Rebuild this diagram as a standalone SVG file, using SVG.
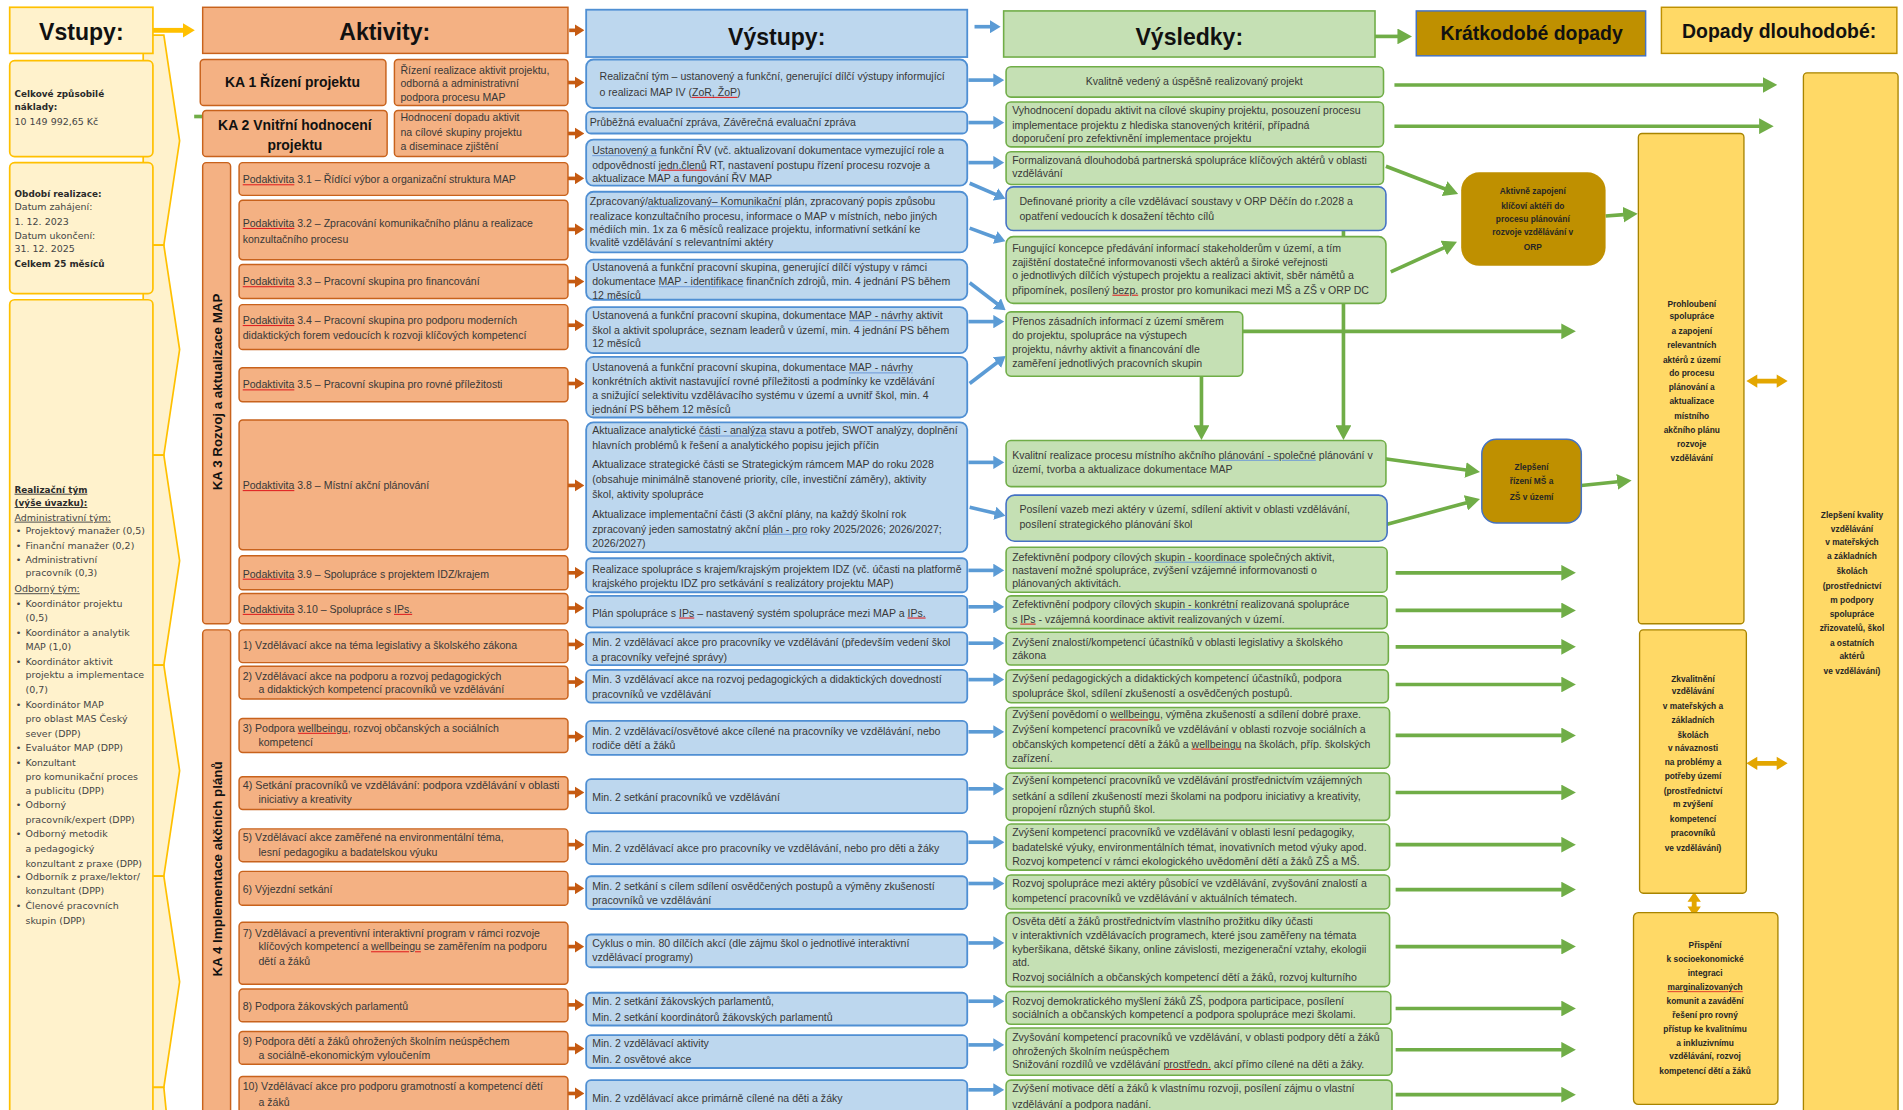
<svg xmlns="http://www.w3.org/2000/svg" width="1903" height="1110" viewBox="0 0 1903 1110">
<style>
text{font-family:"Liberation Sans",Arial,sans-serif}
.b{font-size:8.7px;fill:#383838}
.l{font-family:"DejaVu Sans",Verdana,sans-serif;font-size:7.8px;fill:#454545}
.lb{font-family:"DejaVu Sans",Verdana,sans-serif;font-size:7.3px;fill:#2a2a2a;font-weight:bold}
.u{text-decoration:underline}
.hd{font-size:19px;font-weight:bold;fill:#111;text-anchor:middle}
.hd2{font-size:16px;font-weight:bold;fill:#111;text-anchor:middle}
.ka{font-size:11.5px;font-weight:bold;fill:#111;text-anchor:middle}
.kv{font-size:11px;font-weight:bold;fill:#111;text-anchor:middle}
.im{font-size:6.9px;font-weight:bold;fill:#262626;text-anchor:middle}
.c{text-anchor:middle}
.inp{fill:#fff2cc;stroke:#ffc000;stroke-width:1.4}
.act{fill:#f4b183;stroke:#c8621c;stroke-width:1.2}
.out{fill:#bdd7ee;stroke:#4f8fd3;stroke-width:1.5}
.res{fill:#c5e0b4;stroke:#70ad47;stroke-width:1.3}
.resb{fill:#c5e0b4;stroke:#4472c4;stroke-width:1.3}
.lt{fill:#ffd966;stroke:#a88400;stroke-width:1.1}
.go{stroke:#c55a11;stroke-width:3;fill:none;marker-end:url(#mo)}
.gb{stroke:#5b9bd5;stroke-width:3;fill:none;marker-end:url(#mb)}
.gg{stroke:#70ad47;stroke-width:3;fill:none;marker-end:url(#mg)}
.gn{stroke:#70ad47;stroke-width:3;fill:none}
.sq{text-decoration:underline wavy;fill:#e02020}
.sq tspan{fill:#383838}
.ul{text-decoration:underline;fill:#6f9bd8}
.ul tspan{fill:#383838}
</style>
<defs>
<marker id="mo" markerUnits="userSpaceOnUse" viewBox="0 -5 8 10" markerWidth="8" markerHeight="10" refX="0.5" refY="0" orient="auto"><path d="M0,-5L8,0L0,5z" fill="#c55a11"/></marker>
<marker id="mb" markerUnits="userSpaceOnUse" viewBox="0 -5.5 9 11" markerWidth="9" markerHeight="11" refX="0.5" refY="0" orient="auto"><path d="M0,-5.5L9,0L0,5.5z" fill="#5b9bd5"/></marker>
<marker id="mg" markerUnits="userSpaceOnUse" viewBox="0 -6.5 12 13" markerWidth="12" markerHeight="13" refX="0.5" refY="0" orient="auto"><path d="M0,-6.5L12,0L0,6.5z" fill="#70ad47"/></marker>
<marker id="my" markerUnits="userSpaceOnUse" viewBox="0 -6 10 12" markerWidth="10" markerHeight="12" refX="0.5" refY="0" orient="auto"><path d="M0,-6L10,0L0,6z" fill="#ffc000"/></marker>
</defs>
<rect width="1903" height="1110" fill="#ffffff"/>
<g transform="scale(1.2136)">

<!-- connectors -->
<g id="connectors">
<line x1="126" y1="25" x2="151" y2="25" stroke="#ffc000" stroke-width="4" marker-end="url(#my)"/>
<line x1="160" y1="96" x2="167" y2="96" class="gn" stroke-width="2"/>
<line x1="469" y1="25" x2="474" y2="25" class="go"/>
<line x1="468" y1="68" x2="474" y2="68" class="go"/>
<line x1="468" y1="110" x2="474" y2="110" class="go"/>
<line x1="468" y1="147" x2="474" y2="147" class="go"/>
<line x1="468" y1="189" x2="474" y2="189" class="go"/>
<line x1="468" y1="232" x2="474" y2="232" class="go"/>
<line x1="468" y1="268" x2="474" y2="268" class="go"/>
<line x1="468" y1="316" x2="474" y2="316" class="go"/>
<line x1="468" y1="400" x2="474" y2="400" class="go"/>
<line x1="468" y1="472" x2="474" y2="472" class="go"/>
<line x1="468" y1="501" x2="474" y2="501" class="go"/>
<line x1="468" y1="531" x2="474" y2="531" class="go"/>
<line x1="468" y1="562" x2="474" y2="562" class="go"/>
<line x1="468" y1="607" x2="474" y2="607" class="go"/>
<line x1="468" y1="653" x2="474" y2="653" class="go"/>
<line x1="468" y1="696" x2="474" y2="696" class="go"/>
<line x1="468" y1="732" x2="474" y2="732" class="go"/>
<line x1="468" y1="780" x2="474" y2="780" class="go"/>
<line x1="468" y1="828" x2="474" y2="828" class="go"/>
<line x1="468" y1="864" x2="474" y2="864" class="go"/>
<line x1="468" y1="901" x2="474" y2="901" class="go"/>
<line x1="803" y1="22" x2="816" y2="22" class="gb"/>
<line x1="798" y1="66" x2="819" y2="66" class="gb"/>
<line x1="798" y1="101" x2="819" y2="101" class="gb"/>
<line x1="798" y1="134" x2="819" y2="134" class="gb"/>
<line x1="799" y1="151" x2="820.7" y2="160.4" class="gb"/>
<line x1="799" y1="188" x2="820.5" y2="195.9" class="gb"/>
<line x1="799" y1="233" x2="821.9" y2="250.5" class="gb"/>
<line x1="798" y1="265" x2="819" y2="265" class="gb"/>
<line x1="799" y1="316" x2="821.9" y2="298.5" class="gb"/>
<line x1="798" y1="381" x2="819" y2="381" class="gb"/>
<line x1="799" y1="418" x2="820.2" y2="423" class="gb"/>
<line x1="798" y1="470" x2="819" y2="470" class="gb"/>
<line x1="798" y1="500" x2="819" y2="500" class="gb"/>
<line x1="798" y1="530" x2="819" y2="530" class="gb"/>
<line x1="798" y1="560" x2="819" y2="560" class="gb"/>
<line x1="798" y1="603" x2="819" y2="603" class="gb"/>
<line x1="798" y1="650" x2="819" y2="650" class="gb"/>
<line x1="798" y1="694" x2="819" y2="694" class="gb"/>
<line x1="798" y1="728" x2="819" y2="728" class="gb"/>
<line x1="798" y1="777" x2="819" y2="777" class="gb"/>
<line x1="798" y1="825" x2="819" y2="825" class="gb"/>
<line x1="798" y1="861" x2="819" y2="861" class="gb"/>
<line x1="798" y1="898" x2="819" y2="898" class="gb"/>
<line x1="1133" y1="30" x2="1152" y2="30" class="gg"/>
<line x1="1149" y1="70" x2="1453" y2="70" class="gg"/>
<line x1="1149" y1="104" x2="1450" y2="104" class="gg"/>
<line x1="1142" y1="137" x2="1190.8" y2="155.7" class="gg"/>
<line x1="1146" y1="224" x2="1190.1" y2="204" class="gg"/>
<line x1="1323" y1="178" x2="1338" y2="176.9" class="gg"/>
<line x1="1107" y1="190" x2="1107" y2="351" class="gg"/>
<line x1="990" y1="310" x2="990" y2="351" class="gg"/>
<line x1="1024" y1="273" x2="1287" y2="273" class="gg"/>
<line x1="1141" y1="378" x2="1208.1" y2="387.3" class="gg"/>
<line x1="1143" y1="432" x2="1208.4" y2="414.2" class="gg"/>
<line x1="1303" y1="400" x2="1333" y2="397" class="gg"/>
<line x1="1150" y1="472" x2="1287" y2="472" class="gg"/>
<line x1="1150" y1="503" x2="1287" y2="503" class="gg"/>
<line x1="1150" y1="533" x2="1287" y2="533" class="gg"/>
<line x1="1150" y1="564" x2="1287" y2="564" class="gg"/>
<line x1="1150" y1="606" x2="1287" y2="606" class="gg"/>
<line x1="1150" y1="653" x2="1287" y2="653" class="gg"/>
<line x1="1150" y1="696" x2="1287" y2="696" class="gg"/>
<line x1="1150" y1="733" x2="1287" y2="733" class="gg"/>
<line x1="1150" y1="780" x2="1287" y2="780" class="gg"/>
<line x1="1150" y1="831" x2="1287" y2="831" class="gg"/>
<line x1="1150" y1="865" x2="1287" y2="865" class="gg"/>
<line x1="1150" y1="902" x2="1287" y2="902" class="gg"/>
<polygon fill="#e3a600" points="1439,314 1448,308.5 1448,312 1464,312 1464,308.5 1473,314 1464,319.5 1464,316 1448,316 1448,319.5"/>
<polygon fill="#e3a600" points="1439,629 1448,623.5 1448,627 1464,627 1464,623.5 1473,629 1464,634.5 1464,631 1448,631 1448,634.5"/>
<polygon fill="#e3a600" points="1396,735 1390.5,743 1394,743 1394,747 1390.5,747 1396,755 1401.5,747 1398,747 1398,743 1401.5,743"/>
</g>

<g id="chevrons">
<polygon class="inp" points="118,29 135,29 148,116 135,202 118,202"/>
<polygon class="inp" points="118,202 135,202 148,288 135,375 118,375"/>
<polygon class="inp" points="118,375 135,375 148,462 135,548 118,548"/>
<polygon class="inp" points="118,548 135,548 148,635 135,722 118,722"/>
<polygon class="inp" points="118,722 135,722 148,809 135,896 118,896"/>
<polygon class="inp" points="118,896 135,896 137,916 118,916"/>
</g>
<g id="vstupy">
<rect class="inp" x="8" y="6" width="118" height="38"/>
<text class="hd" x="67" y="33">Vstupy:</text>
</g>
<g id="naklady">
<rect class="inp" x="8" y="50" width="118" height="79" rx="4"/>
<text class="lb" x="12" y="80">Celkové způsobilé</text>
<text class="lb" x="12" y="91">náklady:</text>
<text class="l" x="12" y="103">10 149 992,65 Kč</text>
</g>
<g id="obdobi">
<rect class="inp" x="8" y="134" width="118" height="108" rx="4"/>
<text class="lb" x="12" y="162">Období realizace:</text>
<text class="l" x="12" y="173">Datum zahájení:</text>
<text class="l" x="12" y="185">1. 12. 2023</text>
<text class="l" x="12" y="197">Datum ukončení:</text>
<text class="l" x="12" y="208">31. 12. 2025</text>
<text class="lb" x="12" y="220">Celkem 25 měsíců</text>
</g>
<g id="tym">
<rect class="inp" x="8" y="247" width="118" height="672" rx="4"/>
<text class="lb u" x="12" y="406">Realizační tým</text>
<text class="lb u" x="12" y="417">(výše úvazku):</text>
<text class="l u" x="12" y="429">Administrativní tým:</text>
<text class="l" x="13" y="440">•</text><text class="l" x="21" y="440">Projektový manažer (0,5)</text>
<text class="l" x="13" y="452">•</text><text class="l" x="21" y="452">Finanční manažer (0,2)</text>
<text class="l" x="13" y="464">•</text><text class="l" x="21" y="464">Administrativní</text>
<text class="l" x="21" y="475">pracovník (0,3)</text>
<text class="l u" x="12" y="488">Odborný tým:</text>
<text class="l" x="13" y="500">•</text><text class="l" x="21" y="500">Koordinátor projektu</text>
<text class="l" x="21" y="512">(0,5)</text>
<text class="l" x="13" y="524">•</text><text class="l" x="21" y="524">Koordinátor a analytik</text>
<text class="l" x="21" y="536">MAP (1,0)</text>
<text class="l" x="13" y="548">•</text><text class="l" x="21" y="548">Koordinátor aktivit</text>
<text class="l" x="21" y="559">projektu a implementace</text>
<text class="l" x="21" y="571">(0,7)</text>
<text class="l" x="13" y="583">•</text><text class="l" x="21" y="583">Koordinátor MAP</text>
<text class="l" x="21" y="595">pro oblast MAS Český</text>
<text class="l" x="21" y="607">sever (DPP)</text>
<text class="l" x="13" y="619">•</text><text class="l" x="21" y="619">Evaluátor MAP (DPP)</text>
<text class="l" x="13" y="631">•</text><text class="l" x="21" y="631">Konzultant</text>
<text class="l" x="21" y="643">pro komunikační proces</text>
<text class="l" x="21" y="654">a publicitu (DPP)</text>
<text class="l" x="13" y="666">•</text><text class="l" x="21" y="666">Odborný</text>
<text class="l" x="21" y="678">pracovník/expert (DPP)</text>
<text class="l" x="13" y="690">•</text><text class="l" x="21" y="690">Odborný metodik</text>
<text class="l" x="21" y="702">a pedagogický</text>
<text class="l" x="21" y="714">konzultant z praxe (DPP)</text>
<text class="l" x="13" y="725">•</text><text class="l" x="21" y="725">Odborník z praxe/lektor/</text>
<text class="l" x="21" y="737">konzultant (DPP)</text>
<text class="l" x="13" y="749">•</text><text class="l" x="21" y="749">Členové pracovních</text>
<text class="l" x="21" y="761">skupin (DPP)</text>
</g>

<g id="aktivity">
<rect class="act" x="167" y="6" width="301" height="38"/>
<text class="hd" x="317" y="33">Aktivity:</text>
</g>
<g id="ka1">
<rect class="act" x="165" y="49" width="153" height="38" rx="3"/>
<text class="ka" x="241" y="72">KA 1 Řízení projektu</text>
<rect class="act" x="325" y="49" width="143" height="38" rx="3"/>
<text class="b" x="330" y="61">Řízení realizace aktivit projektu,</text>
<text class="b" x="330" y="72">odborná a administrativní</text>
<text class="b" x="330" y="83">podpora procesu MAP</text>
</g>
<g id="ka2">
<rect class="act" x="167" y="91" width="152" height="38" rx="3"/>
<text class="ka" x="243" y="107">KA 2 Vnitřní hodnocení</text>
<text class="ka" x="243" y="124">projektu</text>
<rect class="act" x="325" y="91" width="143" height="38" rx="3"/>
<text class="b" x="330" y="100">Hodnocení dopadu aktivit</text>
<text class="b" x="330" y="112">na cílové skupiny projektu</text>
<text class="b" x="330" y="124">a diseminace zjištění</text>
</g>
<g id="ka3">
<rect class="act" x="167" y="134" width="23" height="380" rx="3"/>
<text class="kv" transform="translate(183,323) rotate(-90)">KA 3 Rozvoj a aktualizace  MAP</text>
</g>
<g id="pa31"><rect class="act" x="197" y="134" width="271" height="27" rx="3"/>
<text class="b" x="200" y="151"><tspan class="sq"><tspan>Podaktivita</tspan></tspan> 3.1 – Řídící výbor a organizační struktura MAP</text></g>
<g id="pa32"><rect class="act" x="197" y="165" width="271" height="49" rx="3"/>
<text class="b" x="200" y="187"><tspan class="sq"><tspan>Podaktivita</tspan></tspan> 3.2 – Zpracování komunikačního plánu a realizace</text>
<text class="b" x="200" y="200">konzultačního procesu</text></g>
<g id="pa33"><rect class="act" x="197" y="218" width="271" height="28" rx="3"/>
<text class="b" x="200" y="235"><tspan class="sq"><tspan>Podaktivita</tspan></tspan> 3.3 – Pracovní skupina pro financování</text></g>
<g id="pa34"><rect class="act" x="197" y="251" width="271" height="37" rx="3"/>
<text class="b" x="200" y="267"><tspan class="sq"><tspan>Podaktivita</tspan></tspan> 3.4 – Pracovní skupina pro podporu moderních</text>
<text class="b" x="200" y="279">didaktických forem vedoucích k rozvoji klíčových kompetencí</text></g>
<g id="pa35"><rect class="act" x="197" y="303" width="271" height="28" rx="3"/>
<text class="b" x="200" y="320"><tspan class="sq"><tspan>Podaktivita</tspan></tspan> 3.5 – Pracovní skupina pro rovné příležitosti</text></g>
<g id="pa38"><rect class="act" x="197" y="346" width="271" height="107" rx="3"/>
<text class="b" x="200" y="403"><tspan class="sq"><tspan>Podaktivita</tspan></tspan> 3.8 – Místní akční plánování</text></g>
<g id="pa39"><rect class="act" x="197" y="458" width="271" height="28" rx="3"/>
<text class="b" x="200" y="476"><tspan class="sq"><tspan>Podaktivita</tspan></tspan> 3.9 – Spolupráce s projektem IDZ/krajem</text></g>
<g id="pa310"><rect class="act" x="197" y="489" width="271" height="25" rx="3"/>
<text class="b" x="200" y="505"><tspan class="sq"><tspan>Podaktivita</tspan></tspan> 3.10 – Spolupráce s <tspan class="sq"><tspan>IPs.</tspan></tspan></text></g>
<g id="ka4">
<rect class="act" x="167" y="519" width="23" height="400" rx="3"/>
<text class="kv" transform="translate(183,716) rotate(-90)">KA 4 Implementace  akčních plánů</text>
</g>
<g id="a1"><rect class="act" x="197" y="519" width="271" height="27" rx="3"/>
<text class="b" x="200" y="535">1) Vzdělávací akce na téma legislativy a školského zákona</text></g>
<g id="a2"><rect class="act" x="197" y="549" width="271" height="27" rx="3"/>
<text class="b" x="200" y="560">2) Vzdělávací akce na podporu a rozvoj pedagogických</text>
<text class="b" x="213" y="571">a didaktických kompetencí pracovníků ve vzdělávání</text></g>
<g id="a3"><rect class="act" x="197" y="592" width="271" height="28" rx="3"/>
<text class="b" x="200" y="603">3) Podpora <tspan class="sq"><tspan>wellbeingu</tspan></tspan>, rozvoj občanských a sociálních</text>
<text class="b" x="213" y="615">kompetencí</text></g>
<g id="a4"><rect class="act" x="197" y="640" width="271" height="27" rx="3"/>
<text class="b" x="200" y="650" textLength="261" lengthAdjust="spacingAndGlyphs">4) Setkání pracovníků ve vzdělávání: podpora vzdělávání v oblasti</text>
<text class="b" x="213" y="662">iniciativy a kreativity</text></g>
<g id="a5"><rect class="act" x="197" y="683" width="271" height="27" rx="3"/>
<text class="b" x="200" y="693">5) Vzdělávací akce zaměřené na environmentální téma,</text>
<text class="b" x="213" y="705">lesní pedagogiku a badatelskou výuku</text></g>
<g id="a6"><rect class="act" x="197" y="718" width="271" height="28" rx="3"/>
<text class="b" x="200" y="736">6) Výjezdní setkání</text></g>
<g id="a7"><rect class="act" x="197" y="760" width="271" height="51" rx="3"/>
<text class="b" x="200" y="772">7) Vzdělávací a preventivní interaktivní program v rámci rozvoje</text>
<text class="b" x="213" y="783">klíčových kompetencí a <tspan class="sq"><tspan>wellbeingu</tspan></tspan> se zaměřením na podporu</text>
<text class="b" x="213" y="795">dětí a žáků</text></g>
<g id="a8"><rect class="act" x="197" y="815" width="271" height="27" rx="3"/>
<text class="b" x="200" y="832">8) Podpora žákovských parlamentů</text></g>
<g id="a9"><rect class="act" x="197" y="850" width="271" height="27" rx="3"/>
<text class="b" x="200" y="861">9) Podpora dětí a žáků ohrožených školním neúspěchem</text>
<text class="b" x="213" y="873">a sociálně-ekonomickým vyloučením</text></g>
<g id="a10"><rect class="act" x="197" y="887" width="271" height="30" rx="3"/>
<text class="b" x="200" y="898">10) Vzdělávací akce pro podporu gramotností a kompetencí dětí</text>
<text class="b" x="213" y="911">a žáků</text></g>

<g id="vystupy">
<rect class="out" x="483" y="8" width="314" height="39"/>
<text class="hd" x="640" y="37">Výstupy:</text>
</g>
<g id="o1"><rect class="out" x="483" y="49" width="314" height="40" rx="6"/>
<text class="b" x="494" y="66">Realizační tým – ustanovený a funkční, generující dílčí výstupy informující</text>
<text class="b" x="494" y="79">o realizaci MAP IV (<tspan class="sq"><tspan>ZoR, ŽoP</tspan></tspan>)</text></g>
<g id="o2"><rect class="out" x="483" y="92" width="314" height="18" rx="4"/>
<text class="b" x="486" y="104">Průběžná evaluační zpráva,  Závěrečná  evaluační zpráva</text></g>
<g id="o3"><rect class="out" x="483" y="115" width="314" height="38" rx="6"/>
<text class="b" x="488" y="127"><tspan class="ul"><tspan>Ustanovený  a</tspan></tspan> funkční ŘV (vč. aktualizovaní dokumentace vymezující role a</text>
<text class="b" x="488" y="139">odpovědností <tspan class="sq"><tspan>jedn.členů</tspan></tspan> RT, nastavení postupu řízení procesu rozvoje a</text>
<text class="b" x="488" y="150">aktualizace MAP a fungování ŘV MAP</text></g>
<g id="o4"><rect class="out" x="483" y="158" width="314" height="50" rx="6"/>
<text class="b" x="486" y="169">Zpracovaný/<tspan class="ul"><tspan>aktualizovaný– Komunikační</tspan></tspan> plán, zpracovaný popis způsobu</text>
<text class="b" x="486" y="181">realizace konzultačního procesu, informace o MAP v místních, nebo jiných</text>
<text class="b" x="486" y="192">médiích min. 1x za 6 měsíců realizace projektu, informativní setkání ke</text>
<text class="b" x="486" y="203">kvalitě vzdělávání s relevantními aktéry</text></g>
<g id="o5"><rect class="out" x="483" y="214" width="314" height="33" rx="6"/>
<text class="b" x="488" y="223">Ustanovená  a funkční pracovní skupina, generující dílčí výstupy v rámci</text>
<text class="b" x="488" y="235">dokumentace <tspan class="ul"><tspan>MAP - identifikace</tspan></tspan> finančních zdrojů, min. 4 jednání PS během</text>
<text class="b" x="488" y="246">12 měsíců</text></g>
<g id="o6"><rect class="out" x="483" y="253" width="314" height="38" rx="6"/>
<text class="b" x="488" y="263">Ustanovená  a funkční pracovní skupina, dokumentace <tspan class="ul"><tspan>MAP - návrhy</tspan></tspan> aktivit</text>
<text class="b" x="488" y="275">škol a aktivit spolupráce, seznam leaderů v území, min. 4 jednání PS během</text>
<text class="b" x="488" y="286">12 měsíců</text></g>
<g id="o7"><rect class="out" x="483" y="294" width="314" height="50" rx="6"/>
<text class="b" x="488" y="306">Ustanovená  a funkční pracovní skupina, dokumentace <tspan class="ul"><tspan>MAP - návrhy</tspan></tspan></text>
<text class="b" x="488" y="317">konkrétních aktivit nastavující rovné příležitosti a podmínky ke vzdělávání</text>
<text class="b" x="488" y="329">a snižující selektivitu vzdělávacího systému v území a uvnitř škol, min. 4</text>
<text class="b" x="488" y="340">jednání PS během 12 měsíců</text></g>
<g id="o8"><rect class="out" x="483" y="348" width="314" height="107" rx="6"/>
<text class="b" x="488" y="358">Aktualizace analytické <tspan class="ul"><tspan>části - analýza</tspan></tspan> stavu a potřeb, SWOT analýzy, doplnění</text>
<text class="b" x="488" y="370">hlavních problémů k řešení a analytického popisu jejich příčin</text>
<text class="b" x="488" y="386">Aktualizace strategické  části se Strategickým  rámcem  MAP do roku 2028</text>
<text class="b" x="488" y="398">(obsahuje minimálně stanovené priority, cíle, investiční záměry), aktivity</text>
<text class="b" x="488" y="410">škol, aktivity spolupráce</text>
<text class="b" x="488" y="427">Aktualizace implementační části (3 akční plány, na každý školní rok</text>
<text class="b" x="488" y="439">zpracovaný jeden samostatný akční <tspan class="ul"><tspan>plán - pro</tspan></tspan> roky 2025/2026; 2026/2027;</text>
<text class="b" x="488" y="451">2026/2027)</text></g>
<g id="o9"><rect class="out" x="483" y="460" width="314" height="28" rx="4"/>
<text class="b" x="488" y="472">Realizace spolupráce s krajem/krajským projektem IDZ (vč. účasti na platformě</text>
<text class="b" x="488" y="484">krajského projektu IDZ pro setkávání s realizátory projektu MAP)</text></g>
<g id="o10"><rect class="out" x="483" y="491" width="314" height="26" rx="4"/>
<text class="b" x="488" y="508">Plán spolupráce s <tspan class="sq"><tspan>IPs</tspan></tspan> – nastavený systém spolupráce mezi MAP a <tspan class="sq"><tspan>IPs.</tspan></tspan></text></g>
<g id="o11"><rect class="out" x="483" y="521" width="314" height="27" rx="4"/>
<text class="b" x="488" y="532">Min. 2 vzdělávací akce pro pracovníky ve vzdělávání  (především  vedení škol</text>
<text class="b" x="488" y="545">a pracovníky veřejné  správy)</text></g>
<g id="o12"><rect class="out" x="483" y="552" width="314" height="27" rx="4"/>
<text class="b" x="488" y="563">Min. 3 vzdělávací akce na rozvoj pedagogických a didaktických dovedností</text>
<text class="b" x="488" y="575">pracovníků ve vzdělávání</text></g>
<g id="o13"><rect class="out" x="483" y="594" width="314" height="28" rx="4"/>
<text class="b" x="488" y="606">Min. 2 vzdělávací/osvětové akce cílené na pracovníky ve vzdělávání, nebo</text>
<text class="b" x="488" y="617">rodiče dětí a žáků</text></g>
<g id="o14"><rect class="out" x="483" y="642" width="314" height="28" rx="4"/>
<text class="b" x="488" y="660">Min. 2 setkání pracovníků ve vzdělávání</text></g>
<g id="o15"><rect class="out" x="483" y="685" width="314" height="27" rx="4"/>
<text class="b" x="488" y="702">Min. 2 vzdělávací akce pro pracovníky ve vzdělávání, nebo pro děti a žáky</text></g>
<g id="o16"><rect class="out" x="483" y="722" width="314" height="27" rx="4"/>
<text class="b" x="488" y="733">Min. 2 setkání s cílem sdílení osvědčených postupů a výměny zkušeností</text>
<text class="b" x="488" y="745">pracovníků ve vzdělávání</text></g>
<g id="o17"><rect class="out" x="483" y="770" width="314" height="27" rx="4"/>
<text class="b" x="488" y="780">Cyklus o min. 80 dílčích akcí (dle zájmu škol o jednotlivé interaktivní</text>
<text class="b" x="488" y="792">vzdělávací  programy)</text></g>
<g id="o18"><rect class="out" x="483" y="818" width="314" height="27" rx="4"/>
<text class="b" x="488" y="828">Min. 2 setkání žákovských parlamentů,</text>
<text class="b" x="488" y="841">Min. 2 setkání koordinátorů žákovských parlamentů</text></g>
<g id="o19"><rect class="out" x="483" y="853" width="314" height="27" rx="4"/>
<text class="b" x="488" y="863">Min. 2 vzdělávací aktivity</text>
<text class="b" x="488" y="876">Min. 2 osvětové akce</text></g>
<g id="o20"><rect class="out" x="483" y="890" width="314" height="30" rx="4"/>
<text class="b" x="488" y="908">Min. 2 vzdělávací akce primárně cílené na děti a žáky</text></g>

<g id="vysledky">
<rect class="res" x="827" y="9" width="306" height="38"/>
<text class="hd" x="980" y="37">Výsledky:</text>
</g>
<g id="r1"><rect class="res" x="829" y="55" width="311" height="25" rx="4"/>
<text class="b c" x="984" y="70">Kvalitně vedený  a úspěšně realizovaný  projekt</text></g>
<g id="r2"><rect class="res" x="829" y="84" width="311" height="37" rx="4"/>
<text class="b" x="834" y="94">Vyhodnocení dopadu aktivit na cílové skupiny projektu, posouzení procesu</text>
<text class="b" x="834" y="106">implementace projektu z hlediska stanovených kritérií, případná</text>
<text class="b" x="834" y="117">doporučení pro zefektivnění implementace projektu</text></g>
<g id="r3"><rect class="res" x="829" y="125" width="311" height="27" rx="4"/>
<text class="b" x="834" y="135">Formalizovaná dlouhodobá partnerská spolupráce klíčových aktérů  v oblasti</text>
<text class="b" x="834" y="146">vzdělávání</text></g>
<g id="r4"><rect class="resb" x="829" y="154" width="313" height="36" rx="6"/>
<text class="b" x="840" y="169">Definované priority a cíle vzdělávací soustavy v ORP Děčín do r.2028 a</text>
<text class="b" x="840" y="181">opatření vedoucích k dosažení těchto cílů</text></g>
<g id="r5"><rect class="res" x="829" y="195" width="313" height="55" rx="6"/>
<text class="b" x="834" y="208">Fungující koncepce předávání informací stakeholderům v území, a tím</text>
<text class="b" x="834" y="219">zajištění dostatečné informovanosti všech aktérů  a široké veřejnosti</text>
<text class="b" x="834" y="230">o jednotlivých dílčích výstupech projektu a realizaci aktivit, sběr námětů a</text>
<text class="b" x="834" y="242">připomínek, posílený <tspan class="sq"><tspan>bezp.</tspan></tspan> prostor pro komunikaci mezi MŠ a ZŠ v ORP DC</text></g>
<g id="r6"><rect class="res" x="829" y="257" width="195" height="53" rx="4"/>
<text class="b" x="834" y="268">Přenos zásadních informací z území směrem</text>
<text class="b" x="834" y="279">do projektu, spolupráce na výstupech</text>
<text class="b" x="834" y="291">projektu, návrhy aktivit a financování dle</text>
<text class="b" x="834" y="302">zaměření  jednotlivých pracovních skupin</text></g>
<g id="r7"><rect class="res" x="829" y="363" width="313" height="38" rx="4"/>
<text class="b" x="834" y="378">Kvalitní realizace procesu místního akčního <tspan class="ul"><tspan>plánování - společné</tspan></tspan> plánování v</text>
<text class="b" x="834" y="390">území, tvorba a aktualizace dokumentace MAP</text></g>
<g id="r8"><rect class="resb" x="829" y="408" width="314" height="38" rx="7"/>
<text class="b" x="840" y="423">Posílení vazeb mezi aktéry v území, sdílení aktivit v oblasti vzdělávání,</text>
<text class="b" x="840" y="435">posílení strategického plánování škol</text></g>
<g id="r9"><rect class="res" x="829" y="451" width="314" height="37" rx="4"/>
<text class="b" x="834" y="462">Zefektivnění  podpory cílových <tspan class="ul"><tspan>skupin - koordinace</tspan></tspan> společných aktivit,</text>
<text class="b" x="834" y="473">nastavení  možné spolupráce, zvýšení vzájemné informovanosti o</text>
<text class="b" x="834" y="484">plánovaných aktivitách.</text></g>
<g id="r10"><rect class="res" x="829" y="491" width="314" height="27" rx="4"/>
<text class="b" x="834" y="501">Zefektivnění  podpory cílových <tspan class="ul"><tspan>skupin - konkrétní</tspan></tspan> realizovaná spolupráce</text>
<text class="b" x="834" y="513">s <tspan class="sq"><tspan>IPs</tspan></tspan> - vzájemná koordinace aktivit realizovaných v území.</text></g>
<g id="r11"><rect class="res" x="829" y="521" width="315" height="27" rx="4"/>
<text class="b" x="834" y="532">Zvýšení znalostí/kompetencí účastníků v oblasti legislativy a školského</text>
<text class="b" x="834" y="543">zákona</text></g>
<g id="r12"><rect class="res" x="829" y="552" width="315" height="27" rx="4"/>
<text class="b" x="834" y="562">Zvýšení pedagogických  a didaktických kompetencí účastníků, podpora</text>
<text class="b" x="834" y="574">spolupráce škol, sdílení zkušeností a osvědčených postupů.</text></g>
<g id="r13"><rect class="res" x="829" y="583" width="316" height="50" rx="4"/>
<text class="b" x="834" y="592">Zvýšení povědomí o <tspan class="sq"><tspan>wellbeingu</tspan></tspan>, výměna zkušeností a sdílení dobré praxe.</text>
<text class="b" x="834" y="604">Zvýšení kompetencí  pracovníků ve vzdělávání v oblasti rozvoje sociálních a</text>
<text class="b" x="834" y="616">občanských kompetencí dětí a žáků a <tspan class="sq"><tspan>wellbeingu</tspan></tspan> na školách, příp. školských</text>
<text class="b" x="834" y="628">zařízení.</text></g>
<g id="r14"><rect class="res" x="829" y="637" width="316" height="39" rx="4"/>
<text class="b" x="834" y="646">Zvýšení kompetencí  pracovníků ve vzdělávání prostřednictvím  vzájemných</text>
<text class="b" x="834" y="659">setkání  a sdílení zkušeností mezi školami na podporu iniciativy a kreativity,</text>
<text class="b" x="834" y="670">propojení různých stupňů škol.</text></g>
<g id="r15"><rect class="res" x="829" y="679" width="316" height="38" rx="4"/>
<text class="b" x="834" y="689">Zvýšení kompetencí  pracovníků ve vzdělávání v oblasti lesní pedagogiky,</text>
<text class="b" x="834" y="701">badatelské výuky,  environmentálních témat, inovativních metod výuky apod.</text>
<text class="b" x="834" y="713">Rozvoj kompetencí v rámci ekologického uvědomění dětí a žáků ZŠ a MŠ.</text></g>
<g id="r16"><rect class="res" x="829" y="721" width="316" height="28" rx="4"/>
<text class="b" x="834" y="731">Rozvoj spolupráce mezi aktéry působící ve vzdělávání, zvyšování znalostí a</text>
<text class="b" x="834" y="743">kompetencí pracovníků ve vzdělávání v aktuálních tématech.</text></g>
<g id="r17"><rect class="res" x="829" y="752" width="316" height="61" rx="4"/>
<text class="b" x="834" y="762">Osvěta dětí a žáků prostřednictvím vlastního prožitku díky účasti</text>
<text class="b" x="834" y="774">v interaktivních  vzdělávacích programech,  které  jsou zaměřeny na témata</text>
<text class="b" x="834" y="785">kyberšikana,  dětské šikany, online závislosti, mezigenerační vztahy, ekologii</text>
<text class="b" x="834" y="796">atd.</text>
<text class="b" x="834" y="808">Rozvoj sociálních a občanských kompetencí dětí a žáků, rozvoj kulturního</text></g>
<g id="r18"><rect class="res" x="829" y="817" width="317" height="27" rx="4"/>
<text class="b" x="834" y="828">Rozvoj demokratického myšlení žáků ZŠ, podpora participace, posílení</text>
<text class="b" x="834" y="839">sociálních a občanských kompetencí a podpora spolupráce mezi školami.</text></g>
<g id="r19"><rect class="res" x="829" y="847" width="318" height="39" rx="4"/>
<text class="b" x="834" y="858">Zvyšování kompetencí pracovníků ve vzdělávání, v oblasti podpory dětí a žáků</text>
<text class="b" x="834" y="869">ohrožených školním neúspěchem</text>
<text class="b" x="834" y="880">Snižování rozdílů ve vzdělávání <tspan class="sq"><tspan>prostředn.</tspan></tspan>  akcí přímo cílené na děti a žáky.</text></g>
<g id="r20"><rect class="res" x="829" y="890" width="318" height="30" rx="4"/>
<text class="b" x="834" y="900">Zvýšení motivace dětí a žáků k vlastnímu rozvoji, posílení zájmu o vlastní</text>
<text class="b" x="834" y="913">vzdělávání a podpora nadání.</text></g>

<g id="kratkodobe">
<rect x="1167" y="9" width="189" height="37" fill="#bf9000" stroke="#4472c4" stroke-width="1.2"/>
<text class="hd2" x="1262" y="33">Krátkodobé dopady</text>
</g>
<g id="zapojeni">
<rect x="1204" y="142" width="119" height="77" rx="15" fill="#bf9000"/>
<text class="im" x="1263" y="160">Aktivně zapojení</text>
<text class="im" x="1263" y="172">klíčoví aktéři do</text>
<text class="im" x="1263" y="183">procesu plánování</text>
<text class="im" x="1263" y="194">rozvoje vzdělávání v</text>
<text class="im" x="1263" y="206">ORP</text>
</g>
<g id="rizeni">
<rect x="1221" y="362" width="82" height="69" rx="12" fill="#bf9000" stroke="#4472c4" stroke-width="1.2"/>
<text class="im" x="1262" y="387">Zlepšení</text>
<text class="im" x="1262" y="399">řízení MŠ a</text>
<text class="im" x="1262" y="412">ZŠ v území</text>
</g>

<g id="dlouhodobe">
<rect x="1369" y="6" width="194" height="38" fill="#ffd966" stroke="#bf9000" stroke-width="1.2"/>
<text class="hd2" x="1466" y="31">Dopady dlouhodobé:</text>
</g>
<g id="prohloubeni">
<rect class="lt" x="1350" y="110" width="87" height="404" rx="3"/>
<text class="im" x="1394" y="253">Prohloubení</text>
<text class="im" x="1394" y="263">spolupráce</text>
<text class="im" x="1394" y="275">a zapojení</text>
<text class="im" x="1394" y="287">relevantních</text>
<text class="im" x="1394" y="299">aktérů z území</text>
<text class="im" x="1394" y="310">do procesu</text>
<text class="im" x="1394" y="321">plánování a</text>
<text class="im" x="1394" y="333">aktualizace</text>
<text class="im" x="1394" y="345">místního</text>
<text class="im" x="1394" y="357">akčního plánu</text>
<text class="im" x="1394" y="368">rozvoje</text>
<text class="im" x="1394" y="380">vzdělávání</text>
</g>
<g id="kvalita">
<rect class="lt" x="1486" y="60" width="78" height="860" rx="3"/>
<text class="im" x="1526" y="427">Zlepšení kvality</text>
<text class="im" x="1526" y="438">vzdělávání</text>
<text class="im" x="1526" y="449">v mateřských</text>
<text class="im" x="1526" y="461">a základních</text>
<text class="im" x="1526" y="473">školách</text>
<text class="im" x="1526" y="485">(prostřednictví</text>
<text class="im" x="1526" y="497">m podpory</text>
<text class="im" x="1526" y="508">spolupráce</text>
<text class="im" x="1526" y="520">zřizovatelů, škol</text>
<text class="im" x="1526" y="532">a ostatních</text>
<text class="im" x="1526" y="543">aktérů</text>
<text class="im" x="1526" y="555">ve vzdělávání)</text>
</g>
<g id="zkvalitneni">
<rect class="lt" x="1351" y="519" width="88" height="217" rx="3"/>
<text class="im" x="1395" y="562">Zkvalitnění</text>
<text class="im" x="1395" y="572">vzdělávání</text>
<text class="im" x="1395" y="584">v mateřských a</text>
<text class="im" x="1395" y="596">základních</text>
<text class="im" x="1395" y="608">školách</text>
<text class="im" x="1395" y="619">v návaznosti</text>
<text class="im" x="1395" y="630">na problémy a</text>
<text class="im" x="1395" y="642">potřeby území</text>
<text class="im" x="1395" y="654">(prostřednictví</text>
<text class="im" x="1395" y="665">m zvýšení</text>
<text class="im" x="1395" y="677">kompetencí</text>
<text class="im" x="1395" y="689">pracovníků</text>
<text class="im" x="1395" y="701">ve vzdělávání)</text>
</g>
<g id="prispeni">
<rect class="lt" x="1346" y="752" width="119" height="158" rx="4"/>
<text class="im" x="1405" y="781">Přispění</text>
<text class="im" x="1405" y="793">k socioekonomické</text>
<text class="im" x="1405" y="804">integraci</text>
<text class="im" x="1405" y="816"><tspan style="text-decoration:underline wavy;fill:#e02020"><tspan fill="#262626">marginalizovaných</tspan></tspan></text>
<text class="im" x="1405" y="827">komunit a zavádění</text>
<text class="im" x="1405" y="839">řešení pro rovný</text>
<text class="im" x="1405" y="850">přístup ke kvalitnímu</text>
<text class="im" x="1405" y="862">a inkluzivnímu</text>
<text class="im" x="1405" y="873">vzdělávání, rozvoj</text>
<text class="im" x="1405" y="885">kompetencí dětí a žáků</text>
</g>
</g>
</svg>
